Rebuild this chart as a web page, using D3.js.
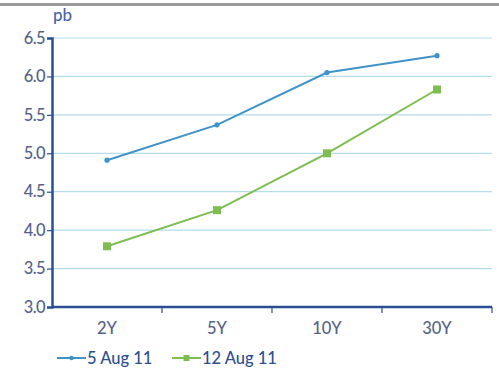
<!DOCTYPE html>
<html>
<head>
<meta charset="utf-8">
<script src="https://cdn.jsdelivr.net/npm/d3@7"></script>
<style>
  html, body { margin: 0; padding: 0; background: #fff; }
  svg { display: block; }
  text { font-family: Lato, "Open Sans", sans-serif; }
</style>
</head>
<body>
<svg id="chart" width="499" height="374"></svg>
<script>
// Yield curve by maturity, two observation dates
const maturities = ["2Y", "5Y", "10Y", "30Y"];
const aug5 = [4.91, 5.37, 6.05, 6.27];
const aug12 = [3.79, 4.26, 5.00, 5.83];
const yTicks = [3.0, 3.5, 4.0, 4.5, 5.0, 5.5, 6.0, 6.5];
const seriesNames = ["5 Aug 11", "12 Aug 11"];
const unitLabel = "pb";

const svg = d3.select("#chart");
const W = 499, H = 374;
const margin = { left: 52, right: 7, top: 38, bottom: 67 };

const axisColor = "#2b4f93";
const textColor = "#56628a";
const gridColor = "#b3dcef";
const blue = "#3f93c9";
const green = "#7ebd4f";
const fs = 16.5;

// top rule
svg.append("rect").attr("x", 0).attr("y", 3).attr("width", W).attr("height", 3).attr("fill", "#9a9a9a");

const x = d3.scaleBand().domain(maturities).range([margin.left, W - margin.right]).padding(0);
const y = d3.scaleLinear().domain([3.0, 6.5]).range([H - margin.bottom, margin.top]);

// horizontal gridlines
svg.append("g").selectAll("line").data(yTicks.slice(1)).join("line")
  .attr("x1", margin.left).attr("x2", W - margin.right)
  .attr("y1", d => y(d)).attr("y2", d => y(d))
  .attr("stroke", gridColor).attr("stroke-width", 1.2);

// y axis
const yAxis = svg.append("g").attr("transform", `translate(${margin.left},0)`)
  .call(d3.axisLeft(y).tickValues(yTicks).tickFormat(d3.format(".1f")).tickSize(5).tickPadding(2));
yAxis.select(".domain").attr("stroke", axisColor).attr("stroke-width", 2.5);
yAxis.selectAll(".tick line").attr("stroke", axisColor).attr("stroke-width", 1.2);
yAxis.selectAll(".tick text").attr("fill", textColor).attr("font-size", fs).attr("font-weight", 500)
  .attr("letter-spacing", -0.6);

// x axis with ticks on band boundaries
const xAxisG = svg.append("g").attr("transform", `translate(0,${H - margin.bottom})`);
xAxisG.append("line")
  .attr("x1", margin.left).attr("x2", W - margin.right)
  .attr("stroke", axisColor).attr("stroke-width", 2.5);
const bounds = maturities.map(m => x(m)).concat([x(maturities[maturities.length - 1]) + x.bandwidth()]);
xAxisG.selectAll("line.tk").data(bounds.slice(1)).join("line").attr("class", "tk")
  .attr("x1", d => d).attr("x2", d => d).attr("y1", 0).attr("y2", 6)
  .attr("stroke", axisColor).attr("stroke-width", 1.2);
xAxisG.selectAll("text").data(maturities).join("text")
  .attr("x", d => x(d) + x.bandwidth() / 2).attr("y", 27)
  .attr("text-anchor", "middle").attr("fill", textColor).attr("font-size", fs).attr("font-weight", 500)
  .text(d => d);

// unit label
svg.append("text").attr("x", 53).attr("y", 21).attr("fill", "#4866a6").attr("font-size", 17).attr("font-weight", 500).text(unitLabel);

const cx = d => x(d) + x.bandwidth() / 2;
const line = d3.line().x(d => cx(d.m)).y(d => y(d.v));

const s1 = maturities.map((m, i) => ({ m, v: aug5[i] }));
const s2 = maturities.map((m, i) => ({ m, v: aug12[i] }));

svg.append("path").datum(s1).attr("d", line).attr("fill", "none").attr("stroke", blue).attr("stroke-width", 2);
svg.append("g").selectAll("circle").data(s1).join("circle")
  .attr("cx", d => cx(d.m)).attr("cy", d => y(d.v)).attr("r", 2.6).attr("fill", blue);

svg.append("path").datum(s2).attr("d", line).attr("fill", "none").attr("stroke", green).attr("stroke-width", 2);
svg.append("g").selectAll("rect").data(s2).join("rect")
  .attr("x", d => cx(d.m) - 4).attr("y", d => y(d.v) - 4).attr("width", 8).attr("height", 8).attr("fill", green);

// legend
const leg = svg.append("g").attr("transform", "translate(0,358)");
const items = [
  { name: seriesNames[0], color: blue, x0: 57, marker: "circle" },
  { name: seriesNames[1], color: green, x0: 172, marker: "rect" }
];
items.forEach(it => {
  leg.append("line").attr("x1", it.x0).attr("x2", it.x0 + 29).attr("stroke", it.color).attr("stroke-width", 2);
  if (it.marker === "circle") {
    leg.append("circle").attr("cx", it.x0 + 14.5).attr("cy", 0).attr("r", 2.2).attr("fill", it.color);
  } else {
    leg.append("rect").attr("x", it.x0 + 11.5).attr("y", -3).attr("width", 6).attr("height", 6).attr("fill", it.color);
  }
  leg.append("text").attr("x", it.x0 + 30).attr("y", 6).attr("fill", axisColor).attr("font-size", fs).attr("font-weight", 500).text(it.name);
});
</script>
</body>
</html>
